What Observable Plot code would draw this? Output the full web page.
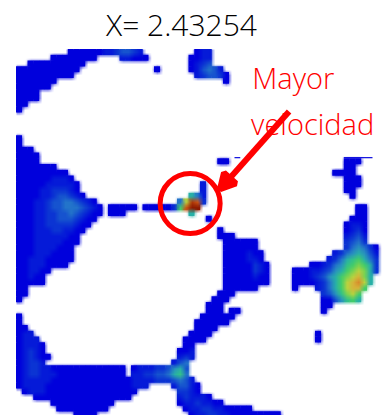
<!DOCTYPE html>
<html><head><meta charset="utf-8">
<script src="https://cdn.jsdelivr.net/npm/d3@7"></script>
<script src="https://cdn.jsdelivr.net/npm/@observablehq/plot@0.6"></script>
<style>
html,body{margin:0;padding:0;background:#fff;overflow:hidden;width:385px;height:415px}
#t{height:49px;width:363px;text-align:center;font:300 30px/49px "Open Sans",sans-serif;color:#000}
svg{display:block}
</style></head><body><div id="t"></div><div id="c"></div>
<script>
const titleText = "X= 2.43254";
const nCols = 64, nRows = 64;
// speed level per grid cell, row by row: "startCol:levels" (levels 0..f, empty = no data)
const speedRows = [
"9:0000001123321 31:011",
"6:00000000 18:11000 30:0011",
"2:0000000000 30:0123",
"0:00000000000 24:0 30:013431",
"0:0000000000 31:123320",
"0:0000000 36:0",
"0:000000",
"0:0000",
"0:0000",
"0:00",
"0:0",
"","","","",
"0:0",
"0:0",
"0:000",
"0:0000",
"0:0000 35:00 57:000",
"0:0000000 57:00",
"0:000000000 55:0000",
"0:0000001110 57:000",
"0:00000111110 32:1 57:000",
"0:00001122210 32:1 57:00",
"0:000011233210 30:641 58:0",
"0:00011233443210 28:4aed2",
"0:000112334443210 16:00000 22:0000028dff 59:00",
"0:000112233432100 16:000 30:6 59:00",
"0:00011223332100 33:0 58:000",
"0:0001122222100 57:0110",
"0:000111221100 35:0 57:0120",
"0:00011111100 35:000 57:1231",
"0:00011111000 36:000000 57:2342",
"0:0001111000 36:000000 57:245420",
"0:0001110000 36:0000100 55:12456531",
"0:0011100000 36:0000110 54:124678642",
"0:001110000 36:00000210 51:001245789862",
"0:001100 36:00000210 48:00011235689a962",
"0:00100 36:00000100 48:0001235689ab96",
"0:00000 36:00000000 48:000012468abca6",
"0:00 36:000000 48:0 52:12468abb8",
"0:00 35:000 53:23579a8",
"0:0 34:000 53:0035786",
"33:000 53:00",
"33:000 37:00 53:0",
"0:0 32:000000",
"0:0 31:000000",
"0:00 31:0000",
"0:011 30:0000 52:0",
"0:0111 29:0000 52:0",
"0:01110 29:00",
"0:01210 28:001",
"0:012100 28:121",
"0:01221 27:134",
"0:0122110000000000000 20:0111223563",
"0:0122111000000000000 20:1122334674",
"0:01111100000000000000 20:11112223431",
"0:01111000000000000000111 27:13310",
"1:01110000000000000000 28:2210",
"3:00000000000000000 28:121110",
"6:00000000000 28:01121100",
"7:000000000 29:011221100000",
"10:0000 30:0112211000000000"
];
// thin slivers in the same grid units
const sliverX1 = [38, 57], sliverX2 = [39, 62], sliverY1 = [18.8, 18.8], sliverY2 = [19, 19];
const levelStops = [0, 0.15, 0.3, 0.42, 0.55, 0.66, 0.76, 0.88, 1];
const levelColors = ["#0000dc", "#0c3ad2", "#2a85c8", "#28b8a0", "#48d060", "#b5d640", "#e0a838", "#c84a10", "#8c1a00"];
const labelTexts = ["Mayor", "velocidad"], labelX = [41, 40.8], labelY = [5.2, 13.2];
const ringX = [30.2], ringY = [26.8];
const arrowX1 = [47.4], arrowY1 = [10.8], arrowX2 = [36.2], arrowY2 = [23.4];

const grid = new Array(nCols * nRows).fill(NaN);
const cells = [];
speedRows.forEach((s, r) => s.split(" ").filter(Boolean).forEach(seg => {
  const [c, lv] = seg.split(":");
  [...lv].forEach((ch, i) => {
    const v = parseInt(ch, 16) / 15;
    grid[r * nCols + (+c) + i] = v;
    cells.push({col: +c + i, row: r, v});
  });
}));

function head(color) {
  const ns = "http://www.w3.org/2000/svg";
  const m = document.createElementNS(ns, "marker");
  for (const [k, v] of Object.entries({viewBox: "-20 -12 32 24", markerWidth: 32, markerHeight: 24, refX: 0, refY: 0, orient: "auto", markerUnits: "userSpaceOnUse"})) m.setAttribute(k, v);
  const p = document.createElementNS(ns, "path");
  p.setAttribute("d", "M7,0L-8,-8L-8,8Z");
  p.setAttribute("fill", color);
  m.appendChild(p);
  return m;
}

document.getElementById("t").textContent = titleText;
const plot = Plot.plot({
  width: 385, height: 366, margin: 0,
  x: {domain: [0, nCols], range: [16, 16 + nCols * 5.75], axis: null},
  y: {domain: [0, nRows], range: [0, nRows * 5.75], axis: null},
  color: {type: "linear", domain: levelStops, range: levelColors, interpolate: "rgb", clamp: true},
  marks: [
    Plot.rect(cells, {x1: "col", x2: d => d.col + 1.04, y1: "row", y2: d => d.row + 1.04, fill: "v"}),
    Plot.raster(grid, {width: nCols, height: nRows, x1: 0, y1: 0, x2: nCols, y2: nRows, fill: d => d}),
    Plot.rect(sliverX1, {x1: sliverX1, x2: sliverX2, y1: sliverY1, y2: sliverY2, fill: levelColors[0]}),
    Plot.dot(ringX, {x: ringX, y: ringY, r: 30, stroke: "#ff0000", strokeWidth: 5, fill: "none"}),
    Plot.link(arrowX1, {x1: arrowX1, y1: arrowY1, x2: arrowX2, y2: arrowY2, stroke: "#ff0000", strokeWidth: 6, markerEnd: head}),
    Plot.text(labelTexts, {x: labelX, y: labelY, text: d => d, fill: "#ff0000", fontSize: 29, fontWeight: 300, textAnchor: "start", fontFamily: "Open Sans"})
  ]
});
document.getElementById("c").appendChild(plot);
</script></body></html>
